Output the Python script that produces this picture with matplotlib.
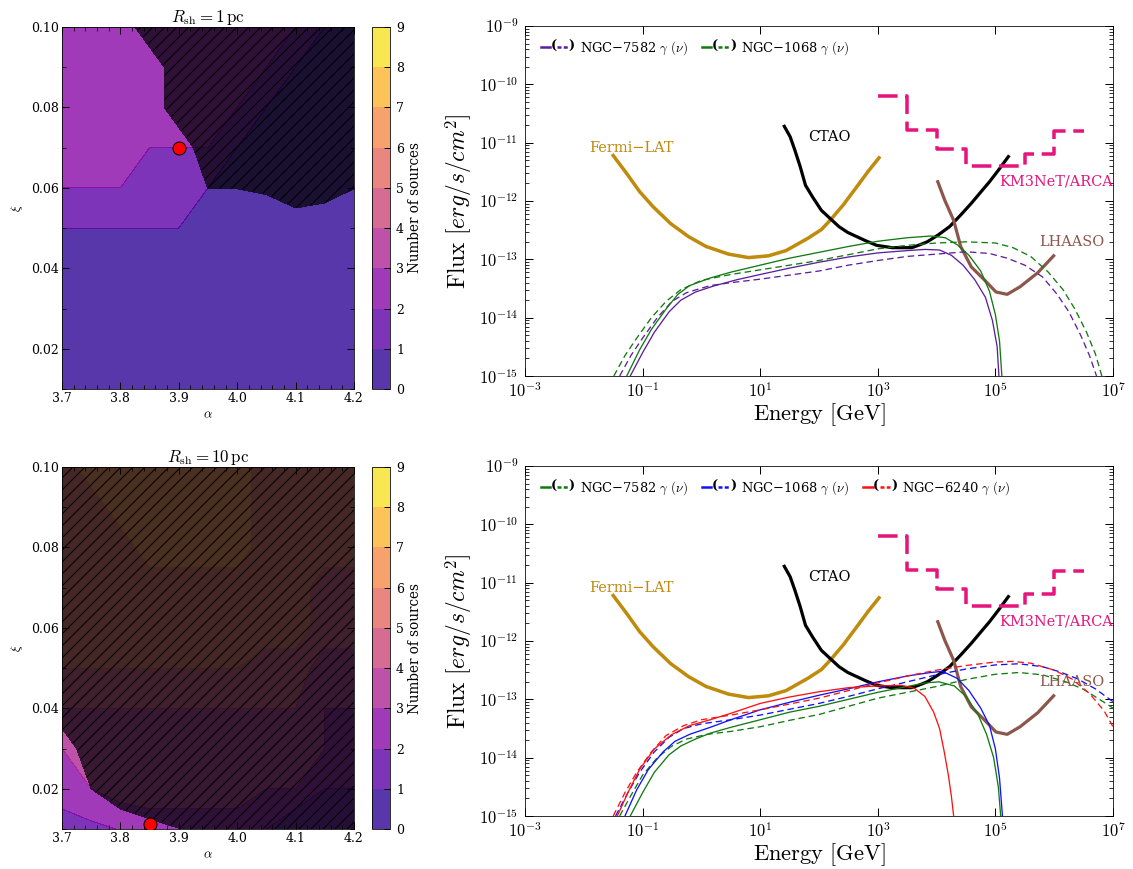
import numpy as np
import matplotlib
matplotlib.use("Agg")
import matplotlib.pyplot as plt
from matplotlib.ticker import AutoMinorLocator, FixedLocator, NullLocator, FuncFormatter, LogLocator
from matplotlib.legend_handler import HandlerBase
from matplotlib.lines import Line2D
from matplotlib.text import Text

plt.rcParams['font.family'] = ['DejaVu Serif']
plt.rcParams['mathtext.fontset'] = 'cm'
plt.rcParams['hatch.linewidth'] = 1.0

# ---------------- parameter scan (left panels) ----------------
alpha_vals = np.array([3.70, 3.75, 3.80, 3.85, 3.90, 3.95, 4.00, 4.05, 4.10, 4.15, 4.20])
xi_vals = np.array([0.01, 0.02, 0.03, 0.04, 0.05, 0.06, 0.07, 0.08, 0.09, 0.10])

# number of sources, rows = xi, cols = alpha
counts_1pc = np.array([
    [1, 1, 1, 1, 1, 1, 1, 1, 1, 1, 1],
    [1, 1, 1, 1, 1, 1, 1, 1, 1, 1, 1],
    [1, 1, 1, 1, 1, 1, 1, 1, 1, 1, 1],
    [1, 1, 1, 1, 1, 1, 1, 1, 1, 1, 1],
    [1, 1, 1, 1, 1, 1, 1, 1, 1, 1, 1],
    [2, 2, 2, 2, 2, 1, 1, 1, 1, 1, 1],
    [3, 3, 3, 2, 2, 2, 1, 1, 1, 1, 1],
    [3, 3, 3, 3, 3, 3, 2, 1, 1, 1, 1],
    [3, 3, 3, 3, 3, 3, 3, 2, 1, 1, 1],
    [3, 3, 3, 3, 3, 3, 3, 3, 2, 1, 1],
])
# excluded region (hatched where > 0.5)
excl_1pc = np.array([
    [0, 0, 0, 0, 0, 0, 0, 0, 0, 0, 0],
    [0, 0, 0, 0, 0, 0, 0, 0, 0, 0, 0],
    [0, 0, 0, 0, 0, 0, 0, 0, 0, 0, 0],
    [0, 0, 0, 0, 0, 0, 0, 0, 0, 0, 0],
    [0, 0, 0, 0, 0, 0, 0, 0, 0, 0, 0],
    [0, 0, 0, 0, 0, 0.51, 0.51, 0.6, 1, 0.8, 0.51],
    [0, 0, 0, 0, 0, 1, 1, 1, 1, 1, 1],
    [0, 0, 0, 0, 1, 1, 1, 1, 1, 1, 1],
    [0, 0, 0, 0, 1, 1, 1, 1, 1, 1, 1],
    [0, 0, 0, 1, 1, 1, 1, 1, 1, 1, 1],
])
counts_10pc = np.array([
    [1.5, 1.75, 2.05, 2.5, 2.5, 2.5, 2.5, 2.0, 1.0, 1.0, 1.0],
    [2.5, 3.0, 3.5, 3.5, 3.5, 3.5, 3.5, 3.0, 3.0, 2.0, 2.0],
    [3.0, 4.0, 4.0, 4.0, 4.0, 4.0, 4.0, 4.0, 4.0, 3.0, 3.0],
    [4.0, 4.0, 4.0, 4.0, 4.0, 4.0, 4.0, 4.0, 4.0, 3.0, 3.0],
    [5.0, 5.0, 5.0, 5.0, 5.0, 5.0, 5.0, 4.5, 4.5, 3.5, 3.5],
    [5.5, 5.5, 5.5, 5.5, 5.5, 5.5, 5.5, 5.5, 5.5, 4.5, 4.5],
    [5.5, 5.5, 5.5, 5.5, 5.5, 5.5, 5.5, 5.5, 5.5, 4.5, 4.5],
    [5.5, 5.5, 5.5, 6.5, 6.5, 6.5, 6.5, 5.5, 5.5, 5.5, 5.5],
    [5.5, 5.5, 6.5, 6.5, 6.5, 6.5, 6.5, 5.5, 5.5, 5.5, 5.5],
    [5.5, 6.5, 6.5, 6.5, 6.5, 6.5, 6.5, 5.5, 5.5, 5.5, 5.5],
])
excl_10pc = np.array([
    [0, 0, 0, 0, 0.45, 1, 1, 1, 1, 1, 1],
    [0, 0.5, 1, 2, 3, 3, 3, 3, 3, 3, 3],
    [0, 1, 3, 3, 3, 3, 3, 3, 3, 3, 3],
    [1, 3, 3, 3, 3, 3, 3, 3, 3, 3, 3],
    [3, 3, 3, 3, 3, 3, 3, 3, 3, 3, 3],
    [3, 3, 3, 3, 3, 3, 3, 3, 3, 3, 3],
    [3, 3, 3, 3, 3, 3, 3, 3, 3, 3, 3],
    [3, 3, 3, 3, 3, 3, 3, 3, 3, 3, 3],
    [3, 3, 3, 3, 3, 3, 3, 3, 3, 3, 3],
    [3, 3, 3, 3, 3, 3, 3, 3, 3, 3, 3],
])
best_1pc = (3.90, 0.070)
best_10pc = (3.85, 0.0112)

# ---------------- sensitivities (log10 E [GeV], log10 F) ----------------
fermi_logE = [-1.50, -1.27, -1.05, -0.82, -0.52, -0.22, 0.08, 0.46, 0.80, 1.14, 1.44, 1.81,
              2.04, 2.19, 2.41, 2.64, 2.83, 3.02]
fermi_logF = [-11.22, -11.53, -11.84, -12.10, -12.39, -12.61, -12.78, -12.91, -12.97, -12.94,
              -12.85, -12.64, -12.49, -12.33, -12.07, -11.76, -11.50, -11.26]
ctao_logE = [1.41, 1.51, 1.59, 1.68, 1.77, 1.89, 2.04, 2.19, 2.34, 2.49, 2.64, 2.79, 2.98,
             3.24, 3.58, 3.69, 3.84, 4.03, 4.22, 4.41, 4.59, 4.74, 4.90, 5.06, 5.22]
ctao_logF = [-10.72, -10.90, -11.13, -11.41, -11.73, -11.93, -12.16, -12.30, -12.44, -12.54,
             -12.61, -12.68, -12.76, -12.80, -12.80, -12.76, -12.70, -12.58, -12.44, -12.24,
             -12.04, -11.86, -11.67, -11.46, -11.24]
lhaaso_logE = [4.02, 4.14, 4.29, 4.41, 4.59, 4.82, 5.01, 5.20, 5.42, 5.72, 5.99]
lhaaso_logF = [-11.67, -11.99, -12.33, -12.78, -13.13, -13.36, -13.56, -13.60, -13.47, -13.23, -12.94]
km3_edges = [3.0, 3.5, 4.0, 4.5, 5.5, 6.0, 6.5]
km3_logF = [-10.20, -10.79, -11.11, -11.40, -11.20, -10.80]

# ---------------- sources, R_sh = 1 pc ----------------
n7582_g_1_E = [-1.21, -1.0, -0.8, -0.55, -0.35, -0.1, 0.2, 0.6, 1.0, 1.5, 2.0, 2.5, 3.0, 3.5, 3.8, 4.05, 4.25, 4.45, 4.65, 4.83, 4.95, 5.03, 5.06]
n7582_g_1_F = [-15.0, -14.6, -14.25, -13.9, -13.7, -13.56, -13.46, -13.35, -13.26, -13.15, -13.05, -12.96, -12.89, -12.85, -12.83, -12.84, -12.93, -13.1, -13.35, -13.65, -14.05, -14.5, -15.0]
n7582_n_1_E = [-1.39, -1.2, -1.0, -0.75, -0.5, -0.25, 0.15, 0.5, 1.0, 1.5, 2.0, 2.5, 3.0, 3.5, 4.0, 4.5, 4.9, 5.2, 5.5, 5.8, 6.05, 6.25, 6.45, 6.6, 6.72]
n7582_n_1_F = [-15.0, -14.65, -14.35, -14.0, -13.72, -13.57, -13.45, -13.40, -13.34, -13.27, -13.20, -13.1, -13.02, -12.95, -12.91, -12.87, -12.90, -12.98, -13.1, -13.30, -13.6, -13.9, -14.3, -14.65, -15.0]
n1068_g_1_E = [-1.27, -1.05, -0.85, -0.6, -0.4, -0.2, 0.15, 0.5, 1.0, 1.5, 2.0, 2.5, 3.0, 3.5, 3.9, 4.15, 4.35, 4.55, 4.75, 4.9, 5.0, 5.07, 5.11]
n1068_g_1_F = [-15.0, -14.55, -14.2, -13.85, -13.6, -13.45, -13.32, -13.22, -13.10, -12.98, -12.88, -12.78, -12.69, -12.63, -12.60, -12.63, -12.75, -12.93, -13.20, -13.55, -13.95, -14.4, -15.0]
n1068_n_1_E = [-1.49, -1.3, -1.1, -0.85, -0.6, -0.35, 0.0, 0.5, 1.0, 1.5, 2.0, 2.5, 3.0, 3.5, 4.0, 4.5, 5.0, 5.3, 5.6, 5.9, 6.15, 6.35, 6.55, 6.7, 6.81]
n1068_n_1_F = [-15.0, -14.65, -14.35, -14.0, -13.72, -13.52, -13.36, -13.26, -13.18, -13.10, -13.02, -12.92, -12.82, -12.76, -12.72, -12.70, -12.72, -12.80, -12.95, -13.22, -13.52, -13.85, -14.25, -14.62, -15.0]

# ---------------- sources, R_sh = 10 pc ----------------
n7582_g_10_E = [-1.21, -1.0, -0.8, -0.55, -0.35, -0.1, 0.15, 0.5, 1.0, 1.5, 2.0, 2.5, 3.0, 3.5, 3.8, 4.04, 4.3, 4.5, 4.7, 4.85, 4.97, 5.05, 5.09]
n7582_g_10_F = [-15.0, -14.6, -14.25, -13.95, -13.8, -13.68, -13.58, -13.48, -13.35, -13.22, -13.12, -13.0, -12.88, -12.78, -12.72, -12.70, -12.77, -12.95, -13.25, -13.6, -14.0, -14.5, -15.0]
n7582_n_10_E = [-1.39, -1.2, -1.0, -0.75, -0.5, -0.25, 0.1, 0.5, 1.0, 1.5, 2.0, 2.5, 3.0, 3.5, 4.0, 4.5, 5.0, 5.4, 5.8, 6.2, 6.5, 6.8, 7.0]
n7582_n_10_F = [-15.0, -14.65, -14.3, -14.0, -13.8, -13.68, -13.6, -13.55, -13.47, -13.36, -13.26, -13.12, -12.98, -12.88, -12.78, -12.66, -12.57, -12.54, -12.58, -12.70, -12.83, -13.02, -13.15]
n1068_g_10_E = [-1.30, -1.1, -0.9, -0.65, -0.45, -0.2, 0.15, 0.5, 1.0, 1.5, 2.0, 2.5, 3.0, 3.5, 3.9, 4.1, 4.35, 4.55, 4.75, 4.9, 5.0, 5.07, 5.12]
n1068_g_10_F = [-15.0, -14.55, -14.2, -13.9, -13.72, -13.6, -13.48, -13.35, -13.18, -13.05, -12.93, -12.82, -12.70, -12.60, -12.54, -12.52, -12.64, -12.85, -13.15, -13.45, -13.85, -14.35, -15.0]
n1068_n_10_E = [-1.46, -1.25, -1.05, -0.8, -0.55, -0.3, 0.0, 0.5, 1.0, 1.5, 2.0, 2.5, 3.0, 3.5, 4.0, 4.5, 5.0, 5.4, 5.8, 6.1, 6.4, 6.7, 7.0]
n1068_n_10_F = [-15.0, -14.6, -14.25, -13.9, -13.65, -13.5, -13.42, -13.35, -13.27, -13.17, -13.07, -12.95, -12.82, -12.7, -12.58, -12.48, -12.41, -12.39, -12.44, -12.53, -12.65, -12.82, -13.04]
n6240_g_10_E = [-1.43, -1.25, -1.05, -0.8, -0.5, -0.2, 0.15, 0.5, 1.0, 1.5, 2.0, 2.5, 3.0, 3.4, 3.62, 3.8, 3.95, 4.05, 4.13, 4.2, 4.25, 4.29]
n6240_g_10_F = [-15.0, -14.6, -14.2, -13.85, -13.6, -13.45, -13.35, -13.24, -13.07, -12.96, -12.87, -12.80, -12.77, -12.76, -12.81, -12.95, -13.22, -13.5, -13.9, -14.3, -14.65, -15.0]
n6240_n_10_E = [-1.5, -1.3, -1.1, -0.85, -0.6, -0.3, 0.0, 0.5, 1.0, 1.5, 2.0, 2.5, 3.0, 3.5, 4.0, 4.5, 5.0, 5.3, 5.6, 6.0, 6.3, 6.6, 6.85, 7.0]
n6240_n_10_F = [-15.0, -14.6, -14.25, -13.9, -13.62, -13.45, -13.35, -13.27, -13.18, -13.08, -12.98, -12.85, -12.72, -12.60, -12.50, -12.42, -12.36, -12.35, -12.38, -12.50, -12.65, -12.90, -13.2, -13.47]

PURPLE = '#5b1f9e'
GREEN = '#0f7a0f'
BLUE = '#1010ff'
RED = '#ff1010'
FERMI_C = '#c08a0c'
KM3_C = '#e5157b'
LHAASO_C = '#8c564b'


class PairHandler(HandlerBase):
    # draws  ---( - - )  : solid for gamma, dashed for neutrino
    def create_artists(self, legend, orig_handle, xdescent, ydescent, width, height, fontsize, trans):
        c = orig_handle.get_color()
        y = 0.5 * height - ydescent
        x0 = -xdescent
        solid = Line2D([x0, x0 + 0.27 * width], [y, y], color=c, lw=2.5, transform=trans)
        dashed = Line2D([x0 + 0.48 * width, x0 + 0.80 * width], [y, y], color=c, lw=2.5,
                        dashes=(1.6, 0.9), transform=trans)
        lp = Text(x0 + 0.38 * width, y, '(', ha='center', va='center', fontsize=fontsize,
                  fontweight='bold', transform=trans)
        rp = Text(x0 + 0.91 * width, y, ')', ha='center', va='center', fontsize=fontsize,
                  fontweight='bold', transform=trans)
        return [solid, dashed, lp, rp]


def contour_panel(ax, cax, counts, excl, best, title):
    cf = ax.contourf(alpha_vals, xi_vals, counts, levels=np.arange(0, 10), cmap='plasma', alpha=0.8)
    ax.contourf(alpha_vals, xi_vals, excl, levels=[0.5, 100], colors=['black'], alpha=0.7, hatches=['//'])
    ax.plot(best[0], best[1], 'o', color='red', mec='black', mew=1.0, ms=13, zorder=5)
    ax.set_xlim(3.7, 4.2)
    ax.set_ylim(0.01, 0.10)
    ax.set_xticks([3.7, 3.8, 3.9, 4.0, 4.1, 4.2])
    ax.set_xticklabels(['3.7', '3.8', '3.9', '4.0', '4.1', '4.2'])
    ax.set_yticks([0.02, 0.04, 0.06, 0.08, 0.10])
    ax.set_yticklabels(['0.02', '0.04', '0.06', '0.08', '0.10'])
    ax.xaxis.set_minor_locator(AutoMinorLocator(5))
    ax.yaxis.set_minor_locator(AutoMinorLocator(2))
    ax.tick_params(which='both', direction='in', top=True, right=True, labelsize=12.5)
    ax.tick_params(which='major', length=7, width=1)
    ax.tick_params(which='minor', length=4, width=0.8)
    ax.set_xlabel(r'$\alpha$', fontsize=13, labelpad=3)
    ax.set_ylabel(r'$\xi$', fontsize=13, labelpad=6)
    ax.set_title(title, fontsize=17, pad=5)
    cb = fig.colorbar(cf, cax=cax)
    cb.set_ticks(range(10))
    cax.tick_params(direction='in', length=6, width=1, labelsize=12.5, pad=6)
    cb.set_label('Number of sources', fontsize=13.5, labelpad=4)


def flux_panel(ax, sources):
    ax.set_xscale('log')
    ax.set_yscale('log')
    ax.plot(10 ** np.array(fermi_logE), 10 ** np.array(fermi_logF), color=FERMI_C, lw=3.5)
    ax.plot(10 ** np.array(ctao_logE), 10 ** np.array(ctao_logF), color='black', lw=3.2)
    ax.plot(10 ** np.array(lhaaso_logE), 10 ** np.array(lhaaso_logF), color=LHAASO_C, lw=3.2)
    km3_y = km3_logF + [km3_logF[-1]]
    ax.plot(10 ** np.array(km3_edges), 10 ** np.array(km3_y), color=KM3_C, lw=3.5,
            drawstyle='steps-post', dashes=(5.6, 2.2))
    handles = []
    labels = []
    for name, color, gE, gF, nE, nF in sources:
        ax.plot(10 ** np.array(gE), 10 ** np.array(gF), color=color, lw=1.3)
        ax.plot(10 ** np.array(nE), 10 ** np.array(nF), color=color, lw=1.3, dashes=(5, 3))
        handles.append(Line2D([], [], color=color))
        labels.append(name + r' $\gamma$ $(\nu)$')
    ax.text(10 ** -1.91, 10 ** -11.09, 'Fermi\u2212LAT', color=FERMI_C, fontsize=14.5, va='center', ha='left')
    ax.text(10 ** 1.81, 10 ** -10.90, 'CTAO', color='black', fontsize=14.5, va='center', ha='left')
    ax.text(10 ** 7.0, 10 ** -11.67, 'KM3NeT/ARCA', color=KM3_C, fontsize=14.5, va='center', ha='right')
    ax.text(10 ** 6.86, 10 ** -12.71, 'LHAASO', color=LHAASO_C, fontsize=14.5, va='center', ha='right')
    ax.set_xlim(1e-3, 1e7)
    ax.set_ylim(1e-15, 1e-9)
    ax.xaxis.set_major_locator(FixedLocator([1e-3, 1e-1, 1e1, 1e3, 1e5, 1e7]))
    ax.xaxis.set_minor_locator(NullLocator())
    ax.yaxis.set_major_locator(FixedLocator([1e-15, 1e-14, 1e-13, 1e-12, 1e-11, 1e-10, 1e-9]))
    ax.yaxis.set_minor_locator(LogLocator(base=10, subs=np.arange(2, 10), numticks=20))
    fmt = FuncFormatter(lambda v, p: r'$10^{%d}$' % int(round(np.log10(v))))
    ax.xaxis.set_major_formatter(fmt)
    ax.yaxis.set_major_formatter(fmt)
    ax.tick_params(which='both', direction='in', top=True, right=True, labelsize=16.5)
    ax.tick_params(which='major', length=8, width=1)
    ax.tick_params(which='minor', length=4, width=0.8)
    ax.tick_params(axis='x', pad=6)
    ax.tick_params(axis='y', pad=7)
    ax.set_xlabel(r'$\mathrm{Energy\ [GeV]}$', fontsize=22.5, labelpad=0)
    ax.set_ylabel(r'$\mathrm{Flux}\ [erg/s/cm^2]$', fontsize=23.5, labelpad=4)
    ax.legend(handles, labels, handler_map={Line2D: PairHandler()}, loc='upper left',
              bbox_to_anchor=(16 / 588, 1 - 13 / 350), borderpad=0, borderaxespad=0,
              frameon=False, ncol=3, fontsize=13, handlelength=2.6, handletextpad=0.4,
              columnspacing=1.1)


W, H = 1133, 869
fig = plt.figure(figsize=(W / 72, H / 72), dpi=72)


def px_axes(left, top, right, bottom):
    return fig.add_axes([left / W, 1 - bottom / H, (right - left) / W, (bottom - top) / H])


ax_tl = px_axes(62, 27, 354, 389)
cax_tl = px_axes(372, 27, 390, 389)
ax_bl = px_axes(62, 467, 354, 829)
cax_bl = px_axes(372, 467, 390, 829)
ax_tr = px_axes(525, 26, 1113, 376)
ax_br = px_axes(525, 466, 1113, 816)

contour_panel(ax_tl, cax_tl, counts_1pc, excl_1pc, best_1pc, r'$R_{\rm sh} = 1\,{\rm pc}$')
contour_panel(ax_bl, cax_bl, counts_10pc, excl_10pc, best_10pc, r'$R_{\rm sh} = 10\,{\rm pc}$')

flux_panel(ax_tr, [
    ('NGC\u22127582', PURPLE, n7582_g_1_E, n7582_g_1_F, n7582_n_1_E, n7582_n_1_F),
    ('NGC\u22121068', GREEN, n1068_g_1_E, n1068_g_1_F, n1068_n_1_E, n1068_n_1_F),
])
flux_panel(ax_br, [
    ('NGC\u22127582', GREEN, n7582_g_10_E, n7582_g_10_F, n7582_n_10_E, n7582_n_10_F),
    ('NGC\u22121068', BLUE, n1068_g_10_E, n1068_g_10_F, n1068_n_10_E, n1068_n_10_F),
    ('NGC\u22126240', RED, n6240_g_10_E, n6240_g_10_F, n6240_n_10_E, n6240_n_10_F),
])

fig.savefig('out.png', dpi=72)
